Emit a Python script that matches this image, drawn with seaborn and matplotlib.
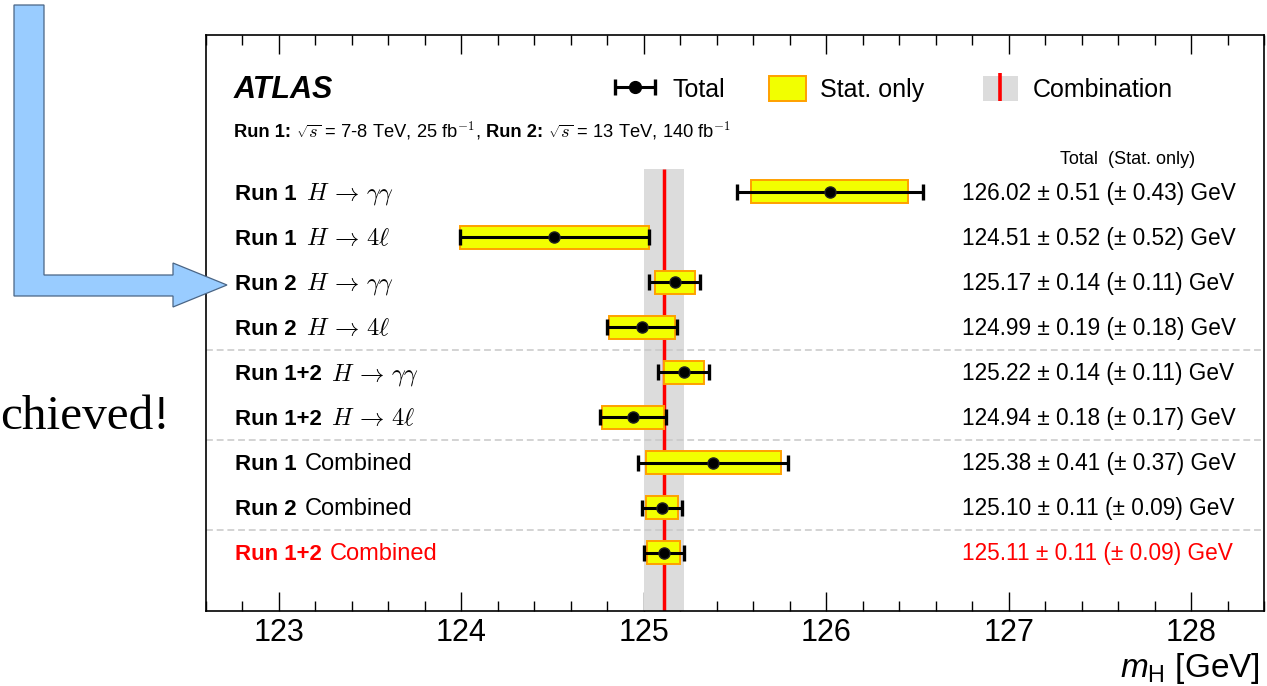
import numpy as np
import pandas as pd
import matplotlib
matplotlib.use("Agg")
import matplotlib.pyplot as plt
import matplotlib.transforms as mtransforms
from matplotlib.patches import Patch, Polygon
from matplotlib.lines import Line2D
from matplotlib.legend_handler import HandlerErrorbar, HandlerTuple
from matplotlib.ticker import MultipleLocator
import seaborn as sns

# ---- measurements -------------------------------------------------------
run_labels = ["Run 1", "Run 1", "Run 2", "Run 2", "Run 1+2", "Run 1+2",
              "Run 1", "Run 2", "Run 1+2"]
channels = [r"$H \,\rightarrow\, \gamma\gamma$", r"$H \,\rightarrow\, 4\ell$",
            r"$H \,\rightarrow\, \gamma\gamma$", r"$H \,\rightarrow\, 4\ell$",
            r"$H \,\rightarrow\, \gamma\gamma$", r"$H \,\rightarrow\, 4\ell$",
            "Combined", "Combined", "Combined"]
mass = [126.02, 124.51, 125.17, 124.99, 125.22, 124.94, 125.38, 125.10, 125.11]
total_unc = [0.51, 0.52, 0.14, 0.19, 0.14, 0.18, 0.41, 0.11, 0.11]
stat_unc = [0.43, 0.52, 0.11, 0.18, 0.11, 0.17, 0.37, 0.09, 0.09]
separators_after = [3, 5, 7]
x_ticks = [123, 124, 125, 126, 127, 128]

df = pd.DataFrame({"run": run_labels, "channel": channels, "mass": mass,
                   "total": total_unc, "stat": stat_unc})
df["row"] = np.arange(len(df))
comb = df.iloc[-1]

# ---- style ---------------------------------------------------------------
sns.set_theme(style="ticks")
plt.rcParams["font.family"] = ["Liberation Sans", "DejaVu Sans"]
plt.rcParams["mathtext.fontset"] = "cm"
plt.rcParams["mathtext.rm"] = "Liberation Sans"
plt.rcParams["mathtext.it"] = "Liberation Sans:italic"
plt.rcParams["mathtext.bf"] = "Liberation Sans:bold"

W, H = 1267, 686
fig = plt.figure(figsize=(W / 100, H / 100), dpi=100)
fig.patch.set_facecolor("white")
ax = fig.add_axes([206 / W, 1 - 611 / H, 1058 / W, 576 / H])
ax.set_facecolor("white")

YBOT, YTOP = 9.29, -3.48
XMIN, XMAX = 122.6, 128.4

# combination band and central line
ax.fill_betweenx([-0.5, YBOT], comb.mass - comb.total, comb.mass + comb.total,
                 color="#dcdcdc", lw=0, zorder=1)
ax.vlines(comb.mass, -0.5, YBOT, color="#ff0000", lw=2.5, zorder=2)

# statistical-only boxes
ax.barh(df["row"], 2 * df["stat"], left=df["mass"] - df["stat"], height=0.51,
        color="#f2ff00", edgecolor="#ffa000", linewidth=1.4, zorder=3)

# total uncertainty bars
ax.errorbar(df["mass"], df["row"], xerr=df["total"], fmt="none", ecolor="black",
            elinewidth=2.2, capsize=6, capthick=2.4, zorder=4)
sns.scatterplot(data=df, x="mass", y="row", ax=ax, color="black", s=64,
                edgecolor="#222222", linewidth=1.0, zorder=5, legend=False)

for r in separators_after:
    ax.axhline(r + 0.5, color="#c8c8c8", lw=1.1, ls=(0, (4.5, 2.5)), zorder=1.5)

ax.set_xlim(XMIN, XMAX)
ax.set_ylim(YBOT, YTOP)
ax.set_xticks(x_ticks)
ax.set_xticklabels([str(t) for t in x_ticks])
ax.xaxis.set_minor_locator(MultipleLocator(0.2))
ax.set_yticks([])
ax.set_ylabel("")
ax.tick_params(axis="x", which="both", direction="in", top=True, bottom=True,
               colors="black", labelsize=22, pad=5)
ax.tick_params(axis="x", which="major", length=14, width=1.0)
ax.tick_params(axis="x", which="minor", length=7, width=1.0)
for sp in ax.spines.values():
    sp.set_color("black")
    sp.set_linewidth(1.2)

ax.set_xlabel(r"$m_{\mathrm{H}}$ [GeV]", fontsize=24, color="black",
              math_fontfamily="custom", ha="right", va="center")
ax.xaxis.set_label_coords(0.996, -0.099)

# ---- text ----------------------------------------------------------------
renderer = fig.canvas.get_renderer()
row_tr = mtransforms.blended_transform_factory(ax.transAxes, ax.transData)


def chained_text(x0, y, pieces, transform, gap, **kw):
    """Place text pieces one after another on a common baseline."""
    x = x0
    for s, weight, size in pieces:
        t = ax.text(x, y, s, transform=transform, fontweight=weight,
                    fontsize=size, ha="left", va="baseline", **kw)
        bb = t.get_window_extent(renderer)
        x = transform.inverted().transform((bb.x1 + gap, bb.y0))[0]


for i, rec in df.iterrows():
    col = "#ff0000" if i == len(df) - 1 else "black"
    base = rec.row + 0.17
    is_math = rec.channel.startswith("$")
    chained_text(0.0274, base,
                 [(rec.run, "bold", 16),
                  (rec.channel, "normal", 17.5 if is_math else 17)],
                 row_tr, 9 if is_math else 8, color=col)
    ax.text(0.7146, base,
            f"{rec.mass:.2f} \u00b1 {rec.total:.2f} (\u00b1 {rec.stat:.2f}) GeV",
            transform=row_tr, ha="left", va="baseline", fontsize=16.3, color=col)

ax.text(0.0265, 0.8906, "ATLAS", transform=ax.transAxes, fontsize=22,
        fontweight="bold", fontstyle="italic", ha="left", va="baseline",
        color="black")
chained_text(0.0265, 0.823,
             [("Run 1:", "bold", 13.2),
              (r"$\sqrt{s}$ = 7-8 TeV, 25 fb$^{-1}$,", "normal", 13.2),
              ("Run 2:", "bold", 13.2),
              (r"$\sqrt{s}$ = 13 TeV, 140 fb$^{-1}$", "normal", 13.2)],
             ax.transAxes, 5, color="black")
ax.text(0.871, 0.776, "Total  (Stat. only)", transform=ax.transAxes,
        ha="center", va="baseline", fontsize=13, color="black")

# ---- legend --------------------------------------------------------------
tot_handle = ax.errorbar([np.nan], [np.nan], xerr=[0.1], fmt="o", color="black",
                         ms=8.5, elinewidth=2.2, capsize=6, capthick=2.4)
stat_handle = Patch(facecolor="#f2ff00", edgecolor="#ffa000", linewidth=1.4)
comb_handle = (Patch(facecolor="#dcdcdc", edgecolor="none"),
               Line2D([], [], color="#ff0000", marker="|", ms=20, mew=2.6, ls="none"))

common = dict(loc="center left", frameon=False, fontsize=18, borderpad=0,
              borderaxespad=0, handleheight=1.12, labelcolor="black")
leg1 = ax.legend([tot_handle], ["Total"], bbox_to_anchor=(0.3866, 0.906),
                 handlelength=1.6, handletextpad=0.68,
                 handler_map={type(tot_handle): HandlerErrorbar(xerr_size=0.8)},
                 **common)
ax.add_artist(leg1)
leg2 = ax.legend([stat_handle], ["Stat. only"], bbox_to_anchor=(0.5321, 0.906),
                 handlelength=1.5, handletextpad=0.56, **common)
ax.add_artist(leg2)
ax.legend([comb_handle], ["Combination"], bbox_to_anchor=(0.7344, 0.906),
          handlelength=1.4, handletextpad=0.6,
          handler_map={tuple: HandlerTuple(ndivide=1)}, **common)

# ---- slide decoration: pointer arrow and caption ---------------------------
arrow_px = [(14, 5), (44, 5), (44, 275), (173, 275), (173, 263), (227, 285),
            (173, 307), (173, 296), (14, 296)]
arrow = Polygon([(x / W, 1 - y / H) for x, y in arrow_px], closed=True,
                transform=fig.transFigure, facecolor="#99ccff",
                edgecolor="#4a6585", linewidth=0.9, zorder=10)
fig.patches.append(arrow)
fig.text(0, 1 - 429 / H, "chieved!", family="Liberation Serif", fontsize=35.5,
         ha="left", va="baseline", color="black")

fig.savefig("out.png", dpi=100)
